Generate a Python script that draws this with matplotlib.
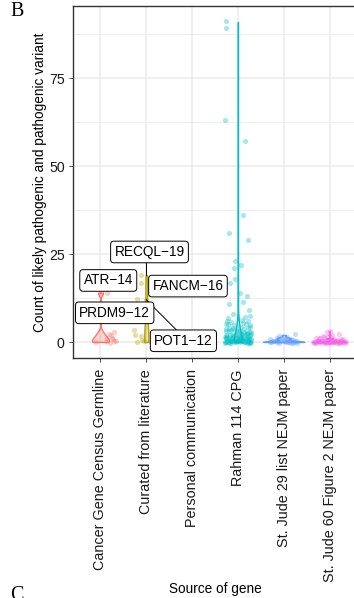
#!/usr/bin/env python3
"""Violin + jitter panel: likely pathogenic variant counts by gene source."""
import numpy as np
import matplotlib
matplotlib.use("Agg")
import matplotlib.pyplot as plt

plt.rcParams.update({
    "font.family": ["Liberation Sans", "DejaVu Sans"],
    "font.size": 9.5,
    "figure.dpi": 100,
})

categories = [
    "Cancer Gene Census Germline",
    "Curated from literature",
    "Personal communication",
    "Rahman 114 CPG",
    "St. Jude 29 list NEJM paper",
    "St. Jude 60 Figure 2 NEJM paper",
]
colors = ["#F8766D", "#B79F00", "#00BA38", "#00BFC4", "#619CFF", "#F564E3"]

# jittered counts (as plotted) and their horizontal jitter, per source
cgc_y = [0.2, 0.1, -0.2, 0.35, 0.3, 1.0, 0.8, 1.2, 1.9, 2.3, 2.8, 14.2, 14.0]
cgc_dx = [0.3, -0.1, 0.2, 0.33, 0.12, 0.25, 0.28, 0.15, 0.22, 0.18, 0.3, 0.01, 0.14]

lit_y = [0.1, -0.1, 0.3, 0.6, 2.0, 1.8, 3.4, 12.1, 11.9, 16.7, 19.1]
lit_dx = [-0.2, 0.1, -0.05, -0.1, -0.24, -0.12, -0.26, -0.2, 0.0, -0.11, -0.12]

pers_y = []
pers_dx = []

rah_y = [
    91.2, 89.2, 63.2, 57.1, 36.0, 31.0, 29.0, 22.9, 21.9, 21.0,
    17.9, 16.9, 13.9, 13.1, 10.9, 11.5, 9.1, 8.0,
    0.1, -0.2, 0.3, 0.0, -0.1, 0.2, 0.35, -0.3, 0.15, 0.05,
    0.2, -0.15, 0.3, 0.1, -0.25, 0.0, 0.25, -0.05, 0.35, 0.15,
    0.4, -0.35, 0.05, 0.2, -0.1, 0.3, 0.1, -0.2, 0.0, 0.25,
    1.1, 0.8, 1.3, 0.9, 1.2, 0.7, 1.0, 1.35, 0.85, 1.15, 0.95,
    1.25, 0.75, 1.05, 1.3, 0.9, 1.2, 0.65, 1.1, 1.0, 0.8, 1.4,
    2.1, 1.8, 2.3, 1.9, 2.2, 1.7, 2.0, 2.35, 1.85, 2.15, 1.95, 2.25, 1.75, 2.05,
    3.1, 2.8, 3.3, 2.9, 3.2, 2.7, 3.0, 3.35, 2.85, 3.15,
    4.1, 3.8, 4.3, 3.9, 4.2, 3.7, 4.0,
    5.1, 4.8, 5.3, 4.9, 5.2, 5.0,
    6.1, 5.8, 6.3, 6.0,
    7.1, 6.8, 7.3,
]
rah_dx = [
    -0.27, -0.26, -0.29, 0.15, 0.12, -0.2, 0.21, -0.07, 0.06, -0.09,
    -0.07, -0.18, 0.04, 0.2, -0.2, 0.12, 0.25, -0.1,
    -0.28, -0.2, -0.12, -0.05, 0.05, 0.12, 0.2, 0.27, -0.24, 0.16,
    0.23, -0.16, 0.08, -0.09, 0.19, -0.26, 0.01, 0.29, -0.02, 0.1,
    -0.14, 0.25, -0.22, 0.03, 0.14, -0.07, 0.26, -0.29, 0.21, -0.18,
    -0.25, 0.18, -0.1, 0.27, 0.05, -0.18, 0.12, -0.28, 0.22, -0.03, 0.09,
    -0.21, 0.29, -0.13, 0.16, -0.06, 0.24, 0.02, -0.27, 0.2, -0.15, 0.07,
    0.26, -0.23, 0.1, -0.12, 0.19, 0.03, -0.27, 0.15, -0.05, 0.28, -0.17, 0.06, 0.22, -0.08,
    -0.2, 0.24, -0.09, 0.13, -0.26, 0.2, 0.04, -0.14, 0.28, -0.02,
    0.21, -0.25, 0.07, -0.1, 0.27, 0.14, -0.19,
    -0.22, 0.26, 0.12, -0.08, 0.18, -0.27,
    0.23, -0.15, 0.08, -0.24,
    0.16, -0.21, 0.27,
]

sj29_y = [
    0.1, 0.3, -0.2, 0.2, 0.0, -0.3, 0.35, 0.15, -0.1, 0.25,
    0.05, -0.25, 0.3, 0.1, -0.15, 0.2, 0.0, -0.05, 0.35, 0.15,
    1.0, 0.8, 1.2, 0.9, 1.1, 1.3, 0.7,
    2.2, 1.6,
]
sj29_dx = [
    -0.3, -0.2, -0.1, 0.0, 0.1, 0.2, 0.3, -0.25, -0.15, -0.05,
    0.05, 0.15, 0.25, -0.28, 0.28, -0.12, 0.12, 0.22, -0.22, 0.02,
    -0.14, -0.3, 0.05, 0.16, -0.05, 0.08, 0.21,
    0.24, -0.1,
]

sj60_y = [
    0.1, -0.2, 0.3, 0.0, 0.2, -0.1, 0.35, -0.3, 0.15, 0.05,
    0.25, -0.15, 0.3, 0.1, -0.25, 0.0, 0.2, -0.05, 0.35, 0.15,
    -0.35, 0.05, 0.25, -0.1, 0.1, 0.3, -0.2, 0.0, 0.2, -0.3,
    0.15, 0.35, -0.15, 0.05, 0.25, -0.05, 0.1, 0.3, -0.25, 0.0,
    0.2, -0.1, 0.35, 0.15, -0.2,
    1.1, 0.8, 1.3, 0.9, 1.2, 0.7, 1.0, 1.35, 0.85, 1.15,
    2.1, 1.8, 2.3,
    2.9, 3.2,
]
sj60_dx = [
    -0.35, -0.3, -0.25, -0.2, -0.15, -0.1, -0.05, 0.0, 0.05, 0.1,
    0.15, 0.2, 0.25, 0.3, 0.35, -0.33, -0.27, -0.22, -0.17, -0.12,
    -0.07, -0.02, 0.03, 0.08, 0.13, 0.18, 0.23, 0.28, 0.33, -0.31,
    -0.24, -0.19, -0.14, -0.09, -0.04, 0.01, 0.06, 0.11, 0.16, 0.21,
    0.26, 0.31, -0.28, 0.09, -0.06,
    -0.2, 0.1, -0.05, 0.25, -0.3, 0.18, 0.04, -0.12, 0.3, -0.24,
    0.06, -0.15, 0.2,
    -0.05, 0.02,
]

points_y = [cgc_y, lit_y, pers_y, rah_y, sj29_y, sj60_y]
points_dx = [cgc_dx, lit_dx, pers_dx, rah_dx, sj29_dx, sj60_dx]

# labelled genes: text, source index, count
gene_labels = ["RECQL\u221219", "ATR\u221214", "FANCM\u221216", "PRDM9\u221212", "POT1\u221212"]
gene_group = [1, 0, 1, 1, 1]
gene_count = [19, 14, 16, 12, 12]


def nrd0(x):
    x = np.ravel(x)
    sd = np.std(x, ddof=1)
    q75, q25 = np.percentile(x, [75, 25])
    lo = min(sd, (q75 - q25) / 1.34)
    if lo == 0:
        lo = sd if sd > 0 else 1.0
    return 0.9 * lo * len(x) ** -0.2


def bw_factor(kde):
    x = np.ravel(kde.dataset)
    return nrd0(x) / np.std(x, ddof=1)


def main():
    fig = plt.figure(figsize=(3.54, 5.98))
    ax = fig.add_axes([73 / 354, 240 / 598, 284 / 354, 352 / 598])

    violin_w = [0.37, 0.09, 0.0, 0.18, 0.9, 0.75]
    for i, (ys, dxs) in enumerate(zip(points_y, points_dx)):
        if len(ys) < 2:
            continue
        counts = np.round(np.array(ys))
        parts = ax.violinplot([counts], positions=[i], widths=violin_w[i],
                              showextrema=False, bw_method=bw_factor)
        for body in parts["bodies"]:
            body.set_alpha(None)
            body.set_facecolor(matplotlib.colors.to_rgba(colors[i], 0.3))
            body.set_edgecolor(colors[i])
            body.set_linewidth(1.0)
            body.set_zorder(3)
        ax.scatter(i + np.array(dxs), ys, s=14, color=colors[i], alpha=0.35,
                   linewidths=0, zorder=4)

    # gene labels (repelled positions as in the figure)
    label_pos = [(1.07, 25.6), (0.17, 17.5), (1.91, 15.9), (0.31, 8.3), (1.81, 0.35)]
    for txt, g, c, (lx, ly) in zip(gene_labels, gene_group, gene_count, label_pos):
        ax.text(lx, ly, txt, ha="center", va="center", fontsize=9.8, zorder=6,
                bbox=dict(boxstyle="round,pad=0.28,rounding_size=0.25",
                          fc="white", ec="black", lw=0.7))
    ax.plot([1, 1.0], [19, 23.1], color="black", lw=0.7, zorder=5)
    ax.plot([1, 1.66], [12, 3.4], color="black", lw=0.7, zorder=5)

    ax.set_xlim(-0.6, len(categories) - 0.4)
    ax.set_ylim(-4.55, 95.55)
    ax.set_xticks(range(len(categories)))
    ax.set_xticklabels(categories, rotation=90, va="top", ha="center", fontsize=10.4)
    ax.set_yticks([0, 25, 50, 75])
    ax.set_yticks([12.5, 37.5, 62.5, 87.5], minor=True)
    ax.tick_params(which="major", length=3, width=0.6, color="#333333",
                   labelcolor="#1a1a1a", pad=3)
    ax.tick_params(axis="y", labelsize=10.2)
    ax.tick_params(axis="x", pad=5)
    ax.tick_params(which="minor", length=0)
    ax.grid(which="major", color="#EBEBEB", lw=1.1, zorder=0)
    ax.grid(which="minor", axis="y", color="#EBEBEB", lw=0.55, zorder=0)
    ax.set_axisbelow(True)
    for sp in ax.spines.values():
        sp.set_color("#333333")
        sp.set_linewidth(1.0)

    fig.text(40 / 354, 1 - 182 / 598, "Count of likely pathogenic and pathogenic variant",
             rotation=90, ha="center", va="center", fontsize=9.8)
    fig.text(215 / 354, 1 - 589 / 598, "Source of gene", ha="center", va="center",
             fontsize=9.8)
    fig.text(10 / 354, 1 - 2 / 598, "B", ha="left", va="top", fontsize=14.5,
             family="Liberation Serif")
    fig.text(10 / 354, 1 - 586 / 598, "C", ha="left", va="top", fontsize=14.5,
             family="Liberation Serif")

    fig.savefig("out.png", dpi=100)
    plt.close(fig)


if __name__ == "__main__":
    main()
